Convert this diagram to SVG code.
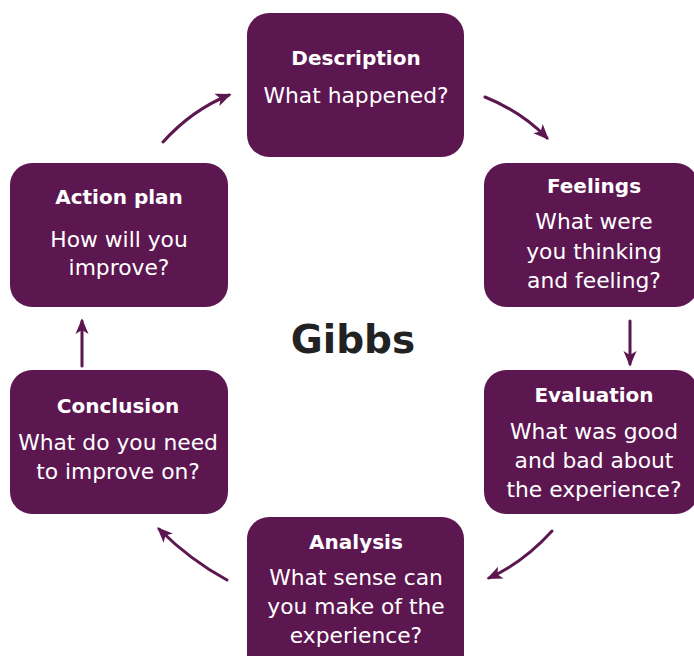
<svg xmlns="http://www.w3.org/2000/svg" width="694" height="656" viewBox="0 0 694 656">
<style>
.box{fill:#5c1751}
.t{font-family:"DejaVu Sans","Open Sans",sans-serif;fill:#fff;text-anchor:middle}
.h{font-weight:700;font-size:20px}
.s{font-size:21.8px}
.c{fill:none;stroke:#5c1751;stroke-width:3;stroke-linecap:round}
</style>
<defs>
<marker id="ah" viewBox="0 0 12 10" refX="10" refY="5" markerWidth="5.2" markerHeight="4.4" orient="auto" markerUnits="strokeWidth">
<path d="M0,0 L12,5 L0,10 L3,5 z" fill="#5c1751"/>
</marker>
</defs>
<rect width="694" height="656" fill="#fff"/>
<g id="description">
<rect class="box" x="247" y="13" width="217" height="144" rx="22"/>
<text class="t h" x="356" y="65">Description</text>
<text class="t s" x="356" y="103">What happened?</text>
</g>
<g id="feelings">
<rect class="box" x="484" y="163" width="214" height="144" rx="22"/>
<text class="t h" x="594" y="193">Feelings</text>
<text class="t s" x="594" y="229">What were</text>
<text class="t s" x="594" y="259">you thinking</text>
<text class="t s" x="594" y="288">and feeling?</text>
</g>
<g id="evaluation">
<rect class="box" x="484" y="370" width="214" height="144" rx="22"/>
<text class="t h" x="594" y="402">Evaluation</text>
<text class="t s" x="594" y="439">What was good</text>
<text class="t s" x="594" y="468">and bad about</text>
<text class="t s" x="594" y="497">the experience?</text>
</g>
<g id="analysis">
<rect class="box" x="247" y="517" width="217" height="160" rx="22"/>
<text class="t h" x="356" y="549">Analysis</text>
<text class="t s" x="356" y="585">What sense can</text>
<text class="t s" x="356" y="614">you make of the</text>
<text class="t s" x="356" y="643">experience?</text>
</g>
<g id="conclusion">
<rect class="box" x="10" y="370" width="218" height="144" rx="22"/>
<text class="t h" x="118" y="413">Conclusion</text>
<text class="t s" x="118" y="450">What do you need</text>
<text class="t s" x="118" y="479">to improve on?</text>
</g>
<g id="action-plan">
<rect class="box" x="10" y="163" width="218" height="144" rx="22"/>
<text class="t h" x="119" y="204">Action plan</text>
<text class="t s" x="119" y="247">How will you</text>
<text class="t s" x="119" y="275">improve?</text>
</g>
<g id="title">
<text x="353" y="353" font-family="'DejaVu Sans','Open Sans',sans-serif" font-weight="700" font-size="39" fill="#222" text-anchor="middle">Gibbs</text>
</g>
<g id="connectors">
<path class="c" d="M163,142 Q192,110 229,95" marker-end="url(#ah)"/>
<path class="c" d="M485,97 Q522,112 547,138" marker-end="url(#ah)"/>
<path class="c" d="M630,321 L630,364" marker-end="url(#ah)"/>
<path class="c" d="M552,531 Q524,562 489,578" marker-end="url(#ah)"/>
<path class="c" d="M227,580 Q190,560 159,529" marker-end="url(#ah)"/>
<path class="c" d="M82,366 L82,321" marker-end="url(#ah)"/>
</g>
</svg>
